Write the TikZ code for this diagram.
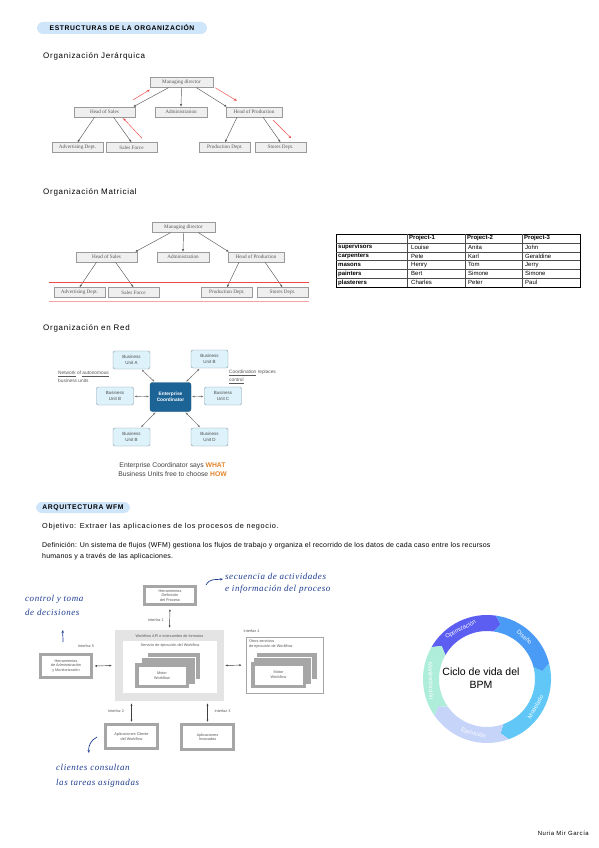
\documentclass[tikz,border=0pt]{standalone}
\usepackage{fontspec}
\setmainfont{Liberation Sans}
\newfontfamily\spacedfont{Liberation Sans}[LetterSpace=9]
\newfontfamily\bodyfont{Liberation Sans}[LetterSpace=3]
\newfontfamily\chartfont{Liberation Serif}
\newfontfamily\handfont{Liberation Serif}[LetterSpace=6]
\usepackage{tikz}
\usetikzlibrary{arrows.meta,positioning}
\definecolor{nmpill}{HTML}{CFE5FA}
\definecolor{nmbox}{HTML}{EFEFEF}
\definecolor{nmboxline}{HTML}{9A9A9A}
\definecolor{nmred}{HTML}{F04848}
\definecolor{nmpink}{HTML}{F5A3A3}
\definecolor{nmunit}{HTML}{DDF2FA}
\definecolor{nmunitline}{HTML}{7E98A8}
\definecolor{nmcoord}{HTML}{1C6496}
\definecolor{nmorange}{HTML}{E5832A}
\definecolor{nmink}{HTML}{1D3D91}
\definecolor{nmwfgray}{HTML}{A6A6A6}
\definecolor{nmapi}{HTML}{E4E4E4}
\definecolor{nmopt}{HTML}{5B5EF0}
\definecolor{nmdis}{HTML}{4A9BF5}
\definecolor{nmmod}{HTML}{60C7F6}
\definecolor{nmeje}{HTML}{C7D4FA}
\definecolor{nmmon}{HTML}{ADEDDA}
\newcommand{\sz}[2]{\fontsize{#1}{#2}\selectfont}
% one org chart, used twice
\newcommand{\orgtree}{%
  \node[org,minimum width=63] (md) at (181.5,82.5) {Managing director};
  \node[org,minimum width=61] (hos) at (104.5,112) {Head of Sales};
  \node[org,minimum width=52] (adm) at (181,112) {Administration};
  \node[org,minimum width=56] (hop) at (254,112) {Head of Production};
  \node[org] (adv) at (77.5,147.5) {Advertising Dept.};
  \node[org] (sf) at (131.5,147.5) {Sales Force};
  \node[org] (pd) at (225,147.5) {Production Dept.};
  \node[org] (sd) at (280.5,147.5) {Stores Dept.};
  \draw[orgarr] ([xshift=-13pt]md.south) -- ([xshift=-2pt]hos.north east);
  \draw[orgarr] (md.south) -- (adm.north);
  \draw[orgarr] ([xshift=15pt]md.south) -- ([xshift=1pt]hop.north west);
  \draw[orgarr] ([xshift=-10pt]hos.south) -- (adv.north);
  \draw[orgarr] ([xshift=9pt]hos.south) -- (sf.north);
  \draw[orgarr] ([xshift=-17pt]hop.south) -- (pd.north);
  \draw[orgarr] ([xshift=9pt]hop.south) -- (sd.north);
}

\begin{document}
\begin{tikzpicture}[x=1pt,y=-1pt,
  pill/.style={fill=nmpill,rounded corners=6pt,font=\spacedfont\bfseries\sz{6.8}{8},inner sep=0pt},
  head/.style={anchor=west,font=\spacedfont\sz{8}{9},inner sep=0pt},
  body/.style={anchor=west,font=\bodyfont\sz{7}{11},align=left,inner sep=0pt},
  org/.style={draw=nmboxline,fill=nmbox,font=\chartfont\sz{5.2}{6},text=black!65,
    minimum width=51,minimum height=10,inner sep=1pt},
  orgarr/.style={-{Latex[length=2.6pt,width=2.2pt]},black!65,line width=0.45pt},
  redarr/.style={-{Stealth[length=3pt,width=2.4pt]},nmred,line width=0.45pt},
  cell/.style={anchor=west,font=\sz{6}{7},inner sep=0pt},
  bunit/.style={draw=nmunitline,fill=nmunit,rounded corners=2pt,align=center,
    font=\sz{4.5}{5.5},text=black!70,minimum width=37,minimum height=18,inner sep=1pt},
  coord/.style={draw=nmcoord!80!black,fill=nmcoord,rounded corners=2.5pt,align=center,
    font=\bfseries\sz{4.8}{6},text=white,minimum width=41,minimum height=29},
  netarr/.style={{Stealth[length=2.4pt]}-{Stealth[length=2.4pt]},black!60,line width=0.45pt,
    shorten <=1pt,shorten >=1pt},
  note/.style={anchor=west,align=left,font=\sz{4.8}{7.5},text=black!65,inner sep=0pt},
  wfbox/.style={draw=nmwfgray,line width=3pt,fill=white,align=center,font=\sz{3.8}{4.6},
    text=black!65,inner sep=0pt},
  wfarr/.style={{Latex[length=2.4pt,width=2pt]}-{Latex[length=2.4pt,width=2pt]},black!75,
    line width=0.45pt},
  wflab/.style={font=\sz{3.8}{4.6},text=black!65,inner sep=0pt,align=left},
  hand/.style={anchor=west,align=left,font=\handfont\itshape\sz{9}{14},text=nmink,inner sep=0pt},
  handarr/.style={-{Stealth[length=3pt]},nmink,line width=0.7pt},
  ringlab/.style={font=\sz{5.8}{7},text=white,inner sep=0pt}]
  \useasboundingbox (0,0) rectangle (599,848);
  \fill[white] (0,0) rectangle (599,848);

  % estructuras
  \node[pill,minimum width=170,minimum height=12] (sec1) at (122,28) {ESTRUCTURAS DE LA ORGANIZACIÓN};
  \node[head] (h-jer) at (43,56) {Organización Jerárquica};
  \begin{scope}[name prefix=j-]
    \orgtree
  \end{scope}
  \draw[redarr] ([shift={(-2pt,7pt)}]j-hos.north east) -- ([shift={(0pt,-2pt)}]j-md.south west);
  \draw[redarr] ([xshift=2pt]j-md.south east) -- ([shift={(11pt,6pt)}]j-hop.north west);
  \draw[redarr] ([shift={(10.5pt,4pt)}]j-sf.north) -- ([shift={(-12pt,-1pt)}]j-hos.south east);
  \draw[redarr] ([shift={(-9pt,-3pt)}]j-hop.south east) -- ([shift={(-15pt,4pt)}]j-sd.north east);

  \node[head] (h-mat) at (43,192) {Organización Matricial};
  \begin{scope}[shift={(2,145)},name prefix=m-]
    \orgtree
  \end{scope}
  \draw[nmred,line width=0.8pt] (49,282) -- (309,282);
  \draw[nmpink,line width=0.9pt] (49,301) -- (309,301);

  % tabla de proyectos
  \draw[line width=0.7pt] (336,234) rectangle (580,287);
  \foreach \yy in {242.8,251.7,260.5,269.3,278.2}
    \draw[black!70,line width=0.35pt] (336,\yy) -- (580,\yy);
  \foreach \xx in {407,465,522}
    \draw[black!70,line width=0.35pt] (\xx,234) -- (\xx,287);
  \node[cell,font=\bfseries\sz{6}{7}] (th-1) at (409,238.4) {Project-1};
  \node[cell,font=\bfseries\sz{6}{7}] (th-2) at (467,238.4) {Project-2};
  \node[cell,font=\bfseries\sz{6}{7}] (th-3) at (524,238.4) {Project-3};
  \foreach \lab/\pa/\pb/\pc [count=\i] in {supervisors/Louise/Anita/John,
      carpenters/Pete/Karl/Geraldine, masons/Henry/Tom/Jerry,
      painters/Bert/Simone/Simone, plasterers/Charles/Peter/Paul}{
    \node[cell,font=\bfseries\sz{6}{7}] (tr-\i) at (338,{238.4+8.83*\i}) {\lab};
    \node[cell] (ta-\i) at (411,{238.4+8.83*\i}) {\pa};
    \node[cell] (tb-\i) at (468,{238.4+8.83*\i}) {\pb};
    \node[cell] (tc-\i) at (525,{238.4+8.83*\i}) {\pc};
  }

  % organizacion en red
  \node[head] (h-red) at (43,328) {Organización en Red};
  \node[coord] (ec) at (170.5,397) {Enterprise\\Coordinator};
  \node[bunit] (bu-a) at (131.5,360) {Business\\Unit A};
  \node[bunit] (bu-b1) at (209.5,359) {Business\\Unit B};
  \node[bunit] (bu-b2) at (115,396) {Business\\Unit B};
  \node[bunit] (bu-c) at (223,396) {Business\\Unit C};
  \node[bunit] (bu-b3) at (131.5,437) {Business\\Unit B};
  \node[bunit] (bu-d) at (209.5,437) {Business\\Unit D};
  \foreach \u in {bu-a,bu-b1,bu-b2,bu-c,bu-b3,bu-d}
    \draw[netarr] (ec) -- (\u);
  \node[note] (n-net) at (58,377) {\underline{Network} of \underline{autonomous}\\business units};
  \node[note] (n-coord) at (229,377) {\underline{Coordination} replaces\\\underline{control}};
  \node[align=center,font=\sz{6.8}{9},text=black!75,inner sep=0pt] (says) at (172.5,469.5)
    {Enterprise Coordinator says \textcolor{nmorange}{\textbf{WHAT}}\\
     Business Units free to choose \textcolor{nmorange}{\textbf{HOW}}};

  % arquitectura WFM
  \node[pill,minimum width=94,minimum height=11] (sec2) at (83,507.5) {ARQUITECTURA WFM};
  \node[body,font=\spacedfont\sz{7.3}{9}] (obj) at (42,527) {Objetivo: Extraer las aplicaciones de los procesos de negocio.};
  \node[body] (def) at (42,551.5) {Definición: Un sistema de flujos (WFM) gestiona los flujos de trabajo y organiza el recorrido de los datos de cada caso entre los recursos\\humanos y a través de las aplicaciones.};

  \node[wfbox,minimum width=51,minimum height=18] (hdp) at (170,595.5) {Herramientas\\Definición\\del Proceso};
  \node[fill=nmapi,minimum width=109,minimum height=71,inner sep=0pt] (api) at (169.5,665.5) {};
  \node[wflab] (api-t) at (169.5,636) {Workflow API e intercambio de formatos};
  \node[fill=white,minimum width=94,minimum height=52,inner sep=0pt] (svc) at (170,667) {};
  \node[wflab] (svc-t) at (170,645.5) {Servicio de ejecución del Workflow};
  \fill[nmwfgray,draw=white,line width=0.6pt] (147,652) rectangle (200,679);
  \fill[nmwfgray,draw=white,line width=0.6pt] (141,657) rectangle (195,684);
  \node[wfbox,line width=3.5pt,minimum width=50.5,minimum height=21.5] (motor) at (162,675.5) {Motor\\Workflow};

  \node[wfbox,minimum width=51,minimum height=23] (ham) at (66,666) {Herramientas\\de Administración\\y Monitorización};
  \node[draw=black!35,line width=0.5pt,fill=white,minimum width=77,minimum height=56,inner sep=0pt] (otros) at (284.5,665) {};
  \node[wflab,anchor=north west] (otros-t) at (249,640) {Otros servicios\\de ejecución de Workflow};
  \fill[nmwfgray,draw=white,line width=0.6pt] (256,652) rectangle (317,679);
  \fill[nmwfgray,draw=white,line width=0.6pt] (253.5,657) rectangle (311.5,684);
  \node[wfbox,line width=3.5pt,minimum width=51.5,minimum height=22.5] (motor2) at (278.5,675) {Motor\\Workflow};
  \node[wfbox,minimum width=52,minimum height=24] (acw) at (131.5,736.5) {Aplicaciones Cliente\\del Workflow};
  \node[wfbox,minimum width=52,minimum height=25] (ain) at (207.5,737) {Aplicaciones\\Invocadas};

  \draw[wfarr,shorten <=3pt,shorten >=2pt] (hdp.south) -- (api.north);
  \draw[wfarr,shorten <=1.5pt,shorten >=3pt] (ham.east) -- (api.west);
  \draw[wfarr,shorten <=1pt,shorten >=4pt] (api.east) -- (otros.west);
  \draw[wfarr,shorten <=1pt,shorten >=2pt] (acw.north) -- (acw.north |- api.south);
  \draw[wfarr,shorten <=1pt,shorten >=2pt] (ain.north) -- (ain.north |- api.south);
  \node[wflab,anchor=east] (if1) at (164,620) {Interfaz 1};
  \node[wflab] (if5) at (86,646) {Interfaz 5};
  \node[wflab] (if4) at (251.5,631) {Interfaz 4};
  \node[wflab] (if2) at (116,711) {Interfaz 2};
  \node[wflab] (if3) at (222.5,711) {Interfaz 3};

  % notas a mano
  \node[hand] (hw-ctrl) at (25,605) {control y toma\\de decisiones};
  \coordinate (ctrl-tail) at (63,642);
  \coordinate (ctrl-tip) at (63,630);
  \draw[handarr] (ctrl-tail) .. controls (62,637) .. (ctrl-tip);
  \node[hand,font=\handfont\itshape\sz{9}{12}] (hw-seq) at (225,583) {secuencia de actividades\\e información del proceso};
  \coordinate (seq-tail) at (206,585);
  \coordinate (seq-tip) at (223,579);
  \draw[handarr] (seq-tail) .. controls (210,578) and (215,580) .. (seq-tip);
  \node[hand,font=\handfont\itshape\sz{9}{15}] (hw-cli) at (56,775.5) {clientes consultan\\las tareas asignadas};
  \coordinate (cli-tail) at (97,737);
  \coordinate (cli-tip) at (89,753);
  \draw[handarr] (cli-tail) .. controls (91,740) and (88,746) .. (cli-tip);

  % ciclo BPM
  \begin{scope}[shift={(487,679)},yscale=-1]
    \foreach \from/\to/\col/\lab/\at/\rot [count=\k] in {
        150/82/nmopt/Optimización/118/28,
        82/14/nmdis/Diseño/48/-42,
        14/-70/nmmod/Modelado/-30/60,
        -70/-145/nmeje/Ejecución/-104/-14,
        -145/-210/nmmon/Monitorización/-178/-88}{
      \fill[\col] (\from:64) arc[start angle=\from,end angle=\to,radius=64]
        -- ({\to-6}:56) -- (\to:48) arc[start angle=\to,end angle=\from,radius=48]
        -- ({\from-6}:56) -- cycle;
      \node[ringlab,rotate=\rot] (seg\k) at (\at:56) {\lab};
    }
  \end{scope}
  \node[align=center,font=\sz{10.5}{13.5},inner sep=0pt] (bpm) at (481,678) {Ciclo de vida del\\BPM};

  \node[anchor=east,font=\spacedfont\sz{6}{7},inner sep=0pt] (author) at (589,833) {Nuria Mir García};
\end{tikzpicture}
\end{document}
